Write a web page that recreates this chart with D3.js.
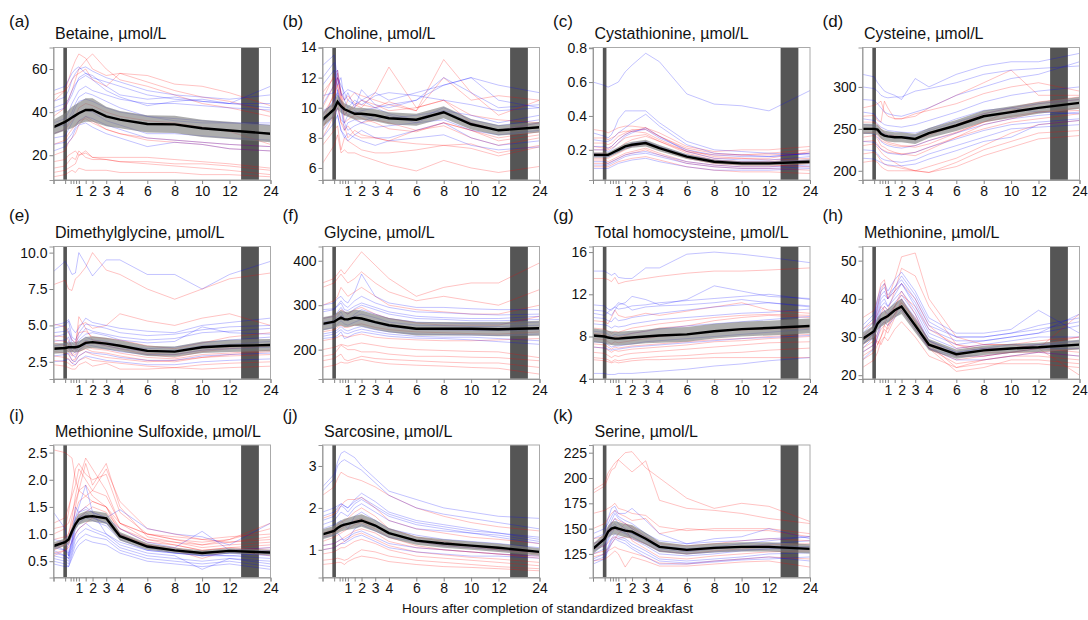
<!DOCTYPE html>
<html><head><meta charset="utf-8">
<script src="https://cdn.jsdelivr.net/npm/d3@7"></script>
<style>body{margin:0;background:#fff}svg{display:block;font-family:"Liberation Sans",Arial,sans-serif}</style>
</head><body><svg id="chart" width="1088" height="620"></svg>
<script>
// ---------- shared axis data ----------
const times = [-0.85,0,0.25,0.5,0.75,1,1.5,2,3,4,6,8,10,12,24];
const majorTicks = [1,2,3,4,6,8,10,12,24];
const minorTicks = [-0.85,0,0.4,0.6,0.8,1.5];
const mealTime = 0;
const nightBand = [15.4, 20.6];
const xAxisTitle = "Hours after completion of standardized breakfast";

const panelLabels = ["(a)","(b)","(c)","(d)","(e)","(f)","(g)","(h)","(i)","(j)","(k)"];
const panelTitles = ["Betaine, µmol/L","Choline, µmol/L","Cystathionine, µmol/L","Cysteine, µmol/L",
  "Dimethylglycine, µmol/L","Glycine, µmol/L","Total homocysteine, µmol/L","Methionine, µmol/L",
  "Methionine Sulfoxide, µmol/L","Sarcosine, µmol/L","Serine, µmol/L"];
const yDomains = [[8.5,70],[5.2,14],[0.022,0.804],[189,347],[1.32,10.42],[134,432],[3.97,16.53],[19,53.7],[0.2,2.64],[0.34,3.5],[101.7,232.6]];
const yTickValues = [[20,40,60],[6,8,10,12,14],[0.2,0.4,0.6,0.8],[200,250,300],[2.5,5,7.5,10],[200,300,400],[4,8,12,16],[20,30,40,50],[0.5,1,1.5,2,2.5],[1,2,3],[125,150,175,200,225]];
const yTickFormats = ["d","d",".1f","d",".1f","d","d","d",".1f","d","d"];

// ---------- (a) Betaine ----------
const betaineMean = [33,35.5,36.5,37.5,38.5,39.5,41,41,38,36.5,34.5,34.3,32.5,31.5,30];
const betaineCI = [3.5,4,4.5,5,5,5,5.5,5.5,4.5,4,4,4,4,4,4];
const betaineRed = [
 [12,13,14,15,16,20,22,19,18,17,16,15,14,13,11],
 [14,15,17,19,18,22,19,18,18,17,17,16,16,15,13],
 [10,11,12,13,12,14,13,13,13,12,12,12,11,11,10],
 [17,18,20,21,22,20,21,19,19,19,19,18,17,16,14],
 [20,22,26,28,30,34,38,36,32,30,27,26,25,23,22],
 [45,50,55,60,64,67,65,60,57,58,54,50,47,45,40],
 [38,42,46,50,55,60,64,67,60,55,52,48,44,42,38],
 [30,32,34,36,38,42,44,43,40,38,36,35,33,31,25],
 [48,50,52,55,57,58,60,55,52,58,57,53,52,49,43],
 [25,27,30,32,34,36,37,35,32,30,28,27,26,25,24]];
const betaineBlue = [
 [50,52,55,58,60,61,58,56,54,52,48,46,45,44,52],
 [45,47,50,55,58,60,61,59,56,54,50,48,47,46,48],
 [40,42,45,48,52,56,58,57,52,48,46,47,45,44,44],
 [35,37,40,44,47,50,52,50,48,46,44,44,43,42,41],
 [30,32,35,38,42,45,46,45,42,40,38,37,36,35,35],
 [28,29,32,35,38,40,41,40,36,34,30,30,29,28,27],
 [25,26,28,30,33,36,38,37,34,32,28,27,26,25,24],
 [33,34,37,40,44,47,49,48,45,42,38,36,35,35,34],
 [22,24,26,28,32,34,35,33,30,28,24,26,25,23,22],
 [42,44,46,50,53,55,57,55,50,47,43,45,46,44,42]];

// ---------- (b) Choline ----------
const cholineMean = [9.2,9.9,10.4,10.1,9.9,9.8,9.6,9.6,9.5,9.3,9.2,9.7,8.9,8.5,8.7];
const cholineCI = [0.5,0.5,0.5,0.45,0.4,0.4,0.4,0.4,0.4,0.4,0.4,0.4,0.35,0.35,0.35];
const cholineRed = [
 [6.3,7.5,8.2,7.0,7.2,7.0,7.0,6.8,6.5,6.2,5.8,6.5,6.0,5.7,6.1],
 [8.5,10.5,12.0,11.0,10.5,10.8,10.3,10.2,10.0,10.4,9.8,13.2,11.0,9.5,10.5],
 [9.0,11.0,12.3,10.5,10.0,9.8,10.2,10.0,11.0,12.7,10.0,10.5,9.0,8.5,9.0],
 [10.0,11.5,12.0,11.0,9.0,9.2,9.5,9.3,9.0,8.6,8.4,9.0,8.5,7.8,8.2],
 [8.0,9.5,10.0,9.0,8.8,8.0,8.5,8.2,8.0,7.8,7.6,7.5,7.3,6.8,7.4],
 [11.0,12.0,11.5,10.5,9.5,9.8,10.0,10.5,10.2,9.8,10.0,10.5,9.5,9.2,9.0],
 [7.5,8.5,8.8,7.2,8.0,7.8,7.5,7.2,7.0,7.0,7.2,7.5,7.6,7.0,7.5],
 [9.5,10.8,11.5,10.0,9.8,9.5,9.3,9.0,9.2,9.0,8.5,9.0,8.5,8.0,8.4],
 [10.5,12.2,12.5,11.0,10.0,10.5,11.0,10.8,10.5,10.2,9.8,12.0,10.5,10.8,10.5],
 [8.8,9.5,10.5,9.0,8.5,8.8,8.2,8.0,8.0,7.8,8.5,8.8,8.0,7.5,8.0]];
const cholineBlue = [
 [12.8,13.5,12.0,11.5,11.0,11.2,11.0,10.5,11.0,10.5,11.0,11.5,12.0,11.5,11.0],
 [12.0,13.0,11.5,12.0,10.5,11.0,10.0,11.2,10.2,10.0,10.5,12.0,11.0,10.0,10.2],
 [9.5,10.5,11.0,10.0,8.5,9.0,9.2,9.0,9.5,9.3,9.5,9.8,9.0,8.5,9.0],
 [8.0,9.0,9.5,8.5,8.2,7.8,8.2,8.5,8.0,8.0,8.5,9.0,8.0,7.5,7.8],
 [10.2,11.5,12.5,11.0,10.5,10.0,10.5,10.2,10.8,11.0,10.8,10.5,10.2,9.8,10.0],
 [11.5,12.5,11.0,10.0,9.0,9.5,9.8,9.5,9.2,9.5,9.0,9.8,9.5,9.0,9.5],
 [9.0,10.0,9.5,8.5,8.0,8.3,8.0,7.8,7.5,7.8,8.0,8.2,7.5,7.2,7.4],
 [10.8,11.0,12.0,10.8,11.0,10.5,10.2,10.5,10.0,10.2,10.5,11.5,12.0,10.5,10.0],
 [8.5,9.5,10.0,9.2,9.0,8.5,8.8,9.0,8.7,8.8,9.0,9.2,8.5,8.2,8.5],
 [9.8,10.2,11.2,10.3,9.5,9.8,9.6,9.8,10.0,9.6,9.2,10.0,9.2,8.8,9.2]];

// ---------- (c) Cystathionine ----------
const cystaMean = [0.17,0.17,0.17,0.18,0.19,0.2,0.22,0.23,0.24,0.21,0.16,0.13,0.12,0.12,0.13];
const cystaCI = [0.015,0.015,0.015,0.015,0.016,0.017,0.018,0.018,0.02,0.018,0.014,0.012,0.012,0.012,0.013];
const cystaRed = [
 [0.32,0.31,0.30,0.31,0.32,0.33,0.34,0.34,0.33,0.30,0.22,0.19,0.20,0.20,0.22],
 [0.22,0.21,0.21,0.22,0.24,0.26,0.29,0.31,0.33,0.28,0.20,0.16,0.15,0.14,0.15],
 [0.15,0.15,0.15,0.16,0.17,0.18,0.20,0.22,0.24,0.21,0.15,0.12,0.11,0.11,0.10],
 [0.12,0.12,0.12,0.13,0.14,0.15,0.17,0.18,0.20,0.17,0.12,0.10,0.09,0.09,0.08],
 [0.18,0.18,0.17,0.18,0.19,0.21,0.24,0.26,0.28,0.25,0.18,0.14,0.13,0.13,0.14],
 [0.10,0.10,0.10,0.11,0.12,0.13,0.14,0.15,0.16,0.14,0.10,0.08,0.07,0.07,0.06],
 [0.27,0.27,0.26,0.27,0.28,0.30,0.31,0.31,0.30,0.26,0.19,0.17,0.17,0.18,0.20],
 [0.20,0.20,0.20,0.21,0.22,0.24,0.27,0.28,0.29,0.25,0.19,0.15,0.15,0.15,0.19],
 [0.14,0.14,0.13,0.14,0.15,0.16,0.18,0.19,0.21,0.18,0.13,0.11,0.10,0.10,0.12],
 [0.24,0.24,0.23,0.24,0.26,0.28,0.30,0.32,0.32,0.28,0.21,0.18,0.17,0.17,0.18]];
const cystaBlue = [
 [0.60,0.58,0.57,0.58,0.59,0.60,0.66,0.70,0.77,0.72,0.53,0.47,0.46,0.43,0.55],
 [0.30,0.28,0.27,0.29,0.33,0.38,0.43,0.43,0.43,0.36,0.25,0.20,0.19,0.18,0.17],
 [0.26,0.25,0.25,0.26,0.28,0.30,0.33,0.36,0.41,0.34,0.23,0.18,0.17,0.16,0.18],
 [0.20,0.20,0.19,0.20,0.22,0.24,0.28,0.30,0.33,0.28,0.19,0.15,0.14,0.14,0.16],
 [0.16,0.16,0.16,0.17,0.18,0.19,0.21,0.22,0.24,0.21,0.16,0.13,0.12,0.12,0.13],
 [0.13,0.13,0.12,0.13,0.14,0.15,0.17,0.18,0.19,0.17,0.13,0.11,0.10,0.10,0.11],
 [0.11,0.11,0.11,0.12,0.13,0.14,0.16,0.17,0.18,0.16,0.12,0.10,0.09,0.09,0.10],
 [0.22,0.22,0.21,0.22,0.24,0.26,0.29,0.31,0.32,0.27,0.20,0.17,0.16,0.16,0.18],
 [0.18,0.17,0.17,0.18,0.19,0.20,0.22,0.24,0.25,0.22,0.17,0.14,0.13,0.13,0.14],
 [0.09,0.09,0.09,0.10,0.11,0.12,0.13,0.14,0.15,0.13,0.10,0.08,0.08,0.08,0.09]];

// ---------- (d) Cysteine ----------
const cysteineMean = [250,250,249,244,242,241,240,240,238,245,254,265,270,275,281];
const cysteineCI = [6,6,6,6,6,6,6,6,6,6,6.5,7,7,7,7];
const cysteineRed = [
 [275,278,280,283,270,265,262,262,265,275,290,305,320,290,290],
 [265,266,260,258,283,275,262,262,268,272,280,292,300,305,295],
 [240,242,238,230,228,225,222,220,218,225,240,255,262,270,275],
 [230,232,228,222,218,215,210,205,200,205,215,230,245,255,260],
 [220,222,218,212,208,206,205,203,200,198,210,225,235,245,248],
 [250,250,246,240,236,234,232,230,228,232,245,258,265,270,272],
 [210,212,210,205,202,200,200,200,200,198,205,218,228,238,242],
 [258,258,255,250,245,243,242,240,238,242,255,268,275,282,288],
 [235,236,232,226,224,222,221,220,222,228,240,250,258,262,268],
 [245,246,242,236,234,232,230,229,230,236,246,258,272,280,285]];
const cysteineBlue = [
 [315,312,305,300,295,293,290,285,310,300,315,325,330,330,340],
 [300,298,295,290,288,287,288,288,295,298,305,315,320,322,325],
 [285,284,280,275,270,268,266,265,270,275,290,300,310,315,330],
 [270,268,262,258,255,254,253,252,255,260,270,282,290,295,300],
 [255,254,250,246,244,242,241,240,242,248,258,268,275,280,285],
 [245,244,240,235,232,230,228,227,230,236,245,255,262,266,270],
 [235,234,230,226,223,221,220,219,222,228,238,248,255,258,262],
 [225,224,220,215,213,212,211,210,213,220,230,240,250,252,255],
 [262,260,256,252,250,248,247,246,245,250,262,272,275,270,268],
 [215,214,212,210,208,207,206,206,208,214,224,235,240,255,260]];

// ---------- (e) Dimethylglycine ----------
const dmgMean = [3.4,3.45,3.5,3.5,3.5,3.55,3.8,3.85,3.75,3.6,3.25,3.2,3.5,3.6,3.65];
const dmgCI = [0.35,0.35,0.35,0.35,0.35,0.38,0.4,0.4,0.4,0.38,0.35,0.35,0.4,0.42,0.42];
const dmgRed = [
 [7.8,8.1,7.5,7.4,8.2,8.4,9.0,10.0,8.8,8.5,7.5,6.8,7.5,8.2,8.6],
 [5.1,4.9,4.5,4.0,3.8,5.0,5.2,4.8,5.0,5.8,5.3,5.0,5.5,5.8,5.0],
 [4.3,4.2,4.0,3.5,3.4,4.5,4.6,4.2,4.1,4.0,3.6,3.4,3.8,4.2,4.5],
 [3.8,3.6,3.4,3.0,3.2,3.6,3.9,3.8,3.6,3.4,3.0,2.8,3.2,3.4,3.6],
 [3.2,3.1,3.0,2.6,2.7,3.2,3.4,3.2,3.1,2.9,2.6,2.5,2.8,3.0,3.2],
 [2.6,2.5,2.4,2.2,2.3,2.6,2.8,2.6,2.5,2.4,2.2,2.1,2.3,2.4,2.5],
 [2.3,2.2,2.1,2.0,2.0,2.3,2.5,2.2,2.4,2.0,2.0,2.1,2.0,2.1,2.2],
 [4.0,3.9,3.7,3.2,3.5,5.6,4.8,4.0,3.8,3.6,3.1,3.0,3.3,3.5,3.7],
 [2.9,2.8,2.7,2.4,2.6,2.9,3.2,3.0,2.8,2.7,2.5,2.6,2.8,2.9,3.0],
 [3.5,3.4,3.2,2.9,3.0,3.3,3.6,3.4,3.3,3.1,2.8,2.7,3.0,3.1,3.3]];
const dmgBlue = [
 [8.7,9.4,9.0,8.5,8.6,10.0,9.2,8.4,9.5,9.5,8.5,8.5,7.5,8.5,9.4],
 [5.0,5.2,5.4,4.8,4.5,4.8,5.5,5.2,5.0,4.8,4.6,4.5,5.0,5.2,5.5],
 [4.5,4.6,4.8,4.0,3.8,4.2,4.8,4.6,4.4,4.2,4.0,4.1,4.5,4.6,4.8],
 [3.9,4.0,4.2,3.5,3.3,3.8,4.2,4.0,3.9,3.6,3.4,3.5,3.8,4.0,4.2],
 [3.4,3.5,3.6,3.0,2.8,3.3,3.7,3.6,3.4,3.2,3.0,3.0,3.3,3.4,3.5],
 [2.9,3.0,3.1,2.6,2.5,2.9,3.2,3.1,3.0,2.8,2.6,2.6,2.9,3.0,3.1],
 [4.2,4.4,4.6,3.8,3.6,4.0,4.4,4.5,4.3,4.0,3.8,3.9,4.9,4.5,4.4],
 [2.5,2.6,2.7,2.4,2.3,2.6,2.9,2.8,2.6,2.5,2.3,2.3,2.5,2.6,2.7],
 [3.6,3.7,3.9,3.3,3.1,3.5,4.0,3.8,3.6,3.4,3.2,3.3,3.6,3.7,3.9],
 [4.8,5.0,5.3,4.2,4.0,4.5,5.1,5.0,4.8,4.5,4.3,4.4,4.7,4.9,5.0]];

// ---------- (f) Glycine ----------
const glycineMean = [258,263,268,272,268,268,272,270,262,255,247,247,247,246,248];
const glycineCI = [15,15,16,17,17,17,18,18,17,16,15,15,15,16,17];
const glycineRed = [
 [350,360,370,380,370,380,400,420,390,360,320,340,350,350,395],
 [340,350,360,370,360,350,360,375,350,330,310,320,310,300,335],
 [300,310,320,340,330,320,330,340,320,300,290,285,280,280,300],
 [270,275,280,290,285,280,290,295,280,270,260,255,255,255,275],
 [240,245,250,255,250,250,255,258,250,245,240,238,236,235,240],
 [220,225,228,232,230,228,232,235,228,225,222,220,220,222,225],
 [200,205,208,212,210,208,212,215,210,205,200,198,196,195,182],
 [185,190,200,210,205,200,200,195,195,190,185,185,183,182,175],
 [175,180,185,190,178,175,180,185,180,178,175,172,170,170,160],
 [160,165,168,172,170,170,175,178,172,168,165,163,160,158,145]];
const glycineBlue = [
 [300,305,315,320,310,305,330,370,320,305,295,295,292,290,290],
 [285,290,300,310,300,295,310,320,305,295,285,283,280,278,280],
 [270,275,285,295,285,280,292,300,290,280,270,268,265,265,268],
 [255,260,268,278,270,265,275,280,272,262,255,254,252,252,255],
 [245,250,258,265,258,255,262,268,260,252,245,244,243,243,245],
 [235,240,245,252,245,242,248,252,245,240,235,234,233,232,235],
 [225,228,232,240,225,228,236,240,235,230,226,225,222,218,212],
 [262,265,275,285,270,265,280,290,280,270,262,260,258,258,262],
 [290,292,298,305,290,288,298,305,295,285,275,272,270,270,275],
 [230,235,240,245,238,236,242,246,240,235,230,228,228,225,220]];

// ---------- (g) Total homocysteine ----------
const thcyMean = [8.1,8.0,7.9,7.85,7.8,7.8,7.85,7.9,8.0,8.1,8.2,8.5,8.7,8.8,9.0];
const thcyCI = [0.65,0.65,0.65,0.65,0.65,0.65,0.65,0.65,0.65,0.7,0.7,0.7,0.7,0.7,0.7];
const thcyRed = [
 [13.5,13.5,13.4,13.2,13.6,13.0,13.2,13.3,13.5,13.7,14.0,14.2,14.2,14.3,14.5],
 [9.5,9.4,9.2,9.8,10.5,10.0,9.8,9.9,10.2,10.0,10.4,10.8,11.2,10.5,10.2],
 [8.8,8.7,8.5,8.3,8.5,8.4,8.6,8.8,9.0,9.2,9.5,9.8,10.0,10.1,10.0],
 [7.8,7.7,7.5,7.3,7.5,7.4,7.5,7.6,7.8,8.0,8.2,8.5,8.6,8.7,8.8],
 [7.0,6.9,6.7,6.5,6.7,6.6,6.7,6.8,6.9,7.0,7.2,7.5,7.6,7.8,8.0],
 [6.5,6.4,6.2,6.0,6.2,6.1,6.3,6.4,6.5,6.6,6.8,7.0,7.2,7.4,7.5],
 [6.0,5.9,5.8,5.6,5.8,5.7,5.8,5.9,6.0,6.1,6.2,6.4,6.5,6.7,6.9],
 [5.8,5.7,5.6,5.5,5.6,5.5,5.6,5.7,5.8,5.8,5.9,6.0,6.0,6.0,6.0],
 [8.3,8.2,8.0,7.8,8.0,7.9,8.1,8.3,8.5,8.8,9.0,9.5,9.8,10.0,9.8],
 [7.3,7.2,7.0,6.8,7.0,6.9,7.0,7.1,7.2,7.3,7.5,7.7,7.8,8.0,8.2]];
const thcyBlue = [
 [14.2,14.2,14.0,13.8,14.0,13.6,13.5,13.5,14.5,14.5,15.8,16.0,15.8,15.5,15.0],
 [10.5,10.4,10.2,10.0,10.5,11.0,11.2,11.8,11.5,11.0,11.5,12.8,12.3,11.8,11.6],
 [10.2,10.0,10.3,10.6,10.8,11.2,11.0,10.5,10.8,10.9,11.0,11.2,11.5,11.2,10.9],
 [9.8,9.7,9.5,9.4,9.8,9.5,9.6,9.8,10.0,10.2,10.5,10.8,11.0,11.2,10.8],
 [8.5,8.4,8.2,8.0,8.2,8.1,8.2,8.3,8.5,8.7,9.0,9.2,9.4,9.6,9.9],
 [7.5,7.4,7.2,7.0,7.1,7.1,7.2,7.3,7.5,7.6,7.8,8.0,8.2,8.4,8.7],
 [4.5,4.5,4.4,4.4,4.4,4.5,4.5,4.5,4.6,4.7,4.9,5.2,5.4,5.7,6.0],
 [9.2,9.1,9.0,8.8,9.0,8.9,9.0,9.2,9.4,9.6,9.8,10.0,10.2,10.3,10.6],
 [7.0,6.9,6.8,6.7,6.8,6.8,6.9,7.0,7.1,7.2,7.4,7.6,7.8,7.9,8.1],
 [11.0,10.9,10.6,10.5,10.8,10.6,10.7,10.9,11.0,11.2,11.4,11.6,11.8,12.0,11.5]];

// ---------- (h) Methionine ----------
const metMean = [29.5,31.5,33.5,34.5,35,35.5,37,38,33,28,25.5,26.5,27,27.3,28];
const metCI = [1.6,1.6,1.7,1.8,1.8,1.8,1.9,2.0,1.8,1.5,1.2,1.2,1.2,1.2,1.3];
const metRed = [
 [30,33,38,42,44,40,45,51,52,40,30,28,28,27,26],
 [28,30,34,36,38,37,42,48,46,38,28,26,26,27,36],
 [26,28,29,28,30,33,38,42,36,28,22,24,25,26,25],
 [24,26,28,30,32,31,35,40,34,27,21,22,24,24,23],
 [27,29,31,33,34,33,36,39,34,27,23,24,25,25,24],
 [32,34,36,38,37,35,38,41,38,32,28,27,27,28,30],
 [22,24,26,29,30,29,32,34,30,25,22,23,23,23,22],
 [35,37,40,44,45,40,42,44,40,33,27,28,28,29,30],
 [29,31,28,30,33,36,38,37,32,27,24,25,26,27,20],
 [25,27,30,32,33,32,36,39,35,29,25,25,26,26,27]];
const metBlue = [
 [33,36,40,43,44,42,45,47,42,35,31,31,32,37,31],
 [30,33,37,40,41,40,43,45,40,33,30,30,31,32,34],
 [31,34,38,41,42,40,42,44,38,31,28,29,30,31,33],
 [28,31,35,38,39,38,40,42,37,30,27,28,29,30,30],
 [27,30,33,36,37,36,38,40,35,29,26,27,27,28,28],
 [26,28,31,34,35,34,36,38,33,27,25,25,26,27,27],
 [29,32,36,39,40,38,41,44,39,32,29,29,30,31,36],
 [32,35,39,42,43,41,43,46,41,34,30,30,31,33,35],
 [24,27,30,33,34,33,35,37,32,27,24,24,25,26,25],
 [28,31,34,37,38,37,39,41,36,29,26,27,28,28,29]];

// ---------- (i) Methionine sulfoxide ----------
const metsoMean = [0.78,0.85,0.9,1.05,1.18,1.27,1.32,1.33,1.29,0.96,0.77,0.7,0.65,0.69,0.66];
const metsoCI = [0.07,0.07,0.08,0.09,0.1,0.1,0.1,0.1,0.1,0.08,0.06,0.05,0.05,0.05,0.05];
const metsoRed = [
 [2.55,2.5,2.45,2.4,2.0,1.8,1.7,1.6,1.5,1.2,1.0,0.95,0.9,0.85,0.95],
 [1.0,1.1,1.4,1.8,2.2,2.3,2.1,2.0,2.1,1.4,1.0,0.9,0.85,0.9,1.1],
 [0.8,0.9,1.0,1.3,1.7,2.0,2.4,2.2,1.8,1.2,0.9,0.8,0.7,0.75,0.8],
 [0.7,0.8,0.9,1.1,1.5,1.8,2.3,1.9,2.3,1.5,0.95,0.85,0.75,0.8,0.85],
 [0.9,0.95,1.0,1.2,1.4,1.6,1.7,1.8,2.2,1.6,1.1,1.0,0.9,0.95,1.0],
 [0.6,0.7,0.8,1.0,1.2,1.4,1.5,1.6,1.5,1.0,0.8,0.75,0.65,0.7,0.75],
 [1.2,1.3,1.5,1.7,1.9,2.2,2.0,1.8,1.7,1.2,1.0,0.9,0.8,0.9,1.2],
 [0.75,0.8,0.85,1.0,1.2,1.3,1.4,1.5,1.4,1.1,0.85,0.8,0.7,0.75,0.7],
 [0.65,0.7,0.75,0.85,1.0,1.1,1.2,1.3,1.3,1.0,0.8,0.7,0.55,0.7,0.6],
 [1.1,1.15,1.2,1.4,1.6,1.8,1.9,1.7,1.5,1.1,0.9,0.85,0.8,0.85,0.9]];
const metsoBlue = [
 [0.9,0.85,0.8,1.0,1.3,1.5,1.9,1.4,1.3,1.45,1.1,1.0,0.95,0.8,1.2],
 [0.7,0.6,0.55,0.8,1.2,1.3,1.4,1.3,1.2,1.0,0.75,0.7,0.6,0.65,0.6],
 [0.6,0.55,0.5,0.7,1.0,1.1,1.2,1.1,1.0,0.8,0.65,0.6,0.35,0.55,0.5],
 [0.5,0.45,0.4,0.6,0.8,0.9,1.0,0.95,0.9,0.7,0.55,0.5,0.45,0.5,0.4],
 [0.8,0.7,0.65,0.9,1.3,1.4,1.5,1.4,1.3,1.1,0.85,0.75,1.05,0.7,0.75],
 [0.65,0.6,0.55,0.75,1.1,1.2,1.3,1.25,1.15,0.9,0.7,0.65,0.6,0.6,0.55],
 [1.4,1.1,0.6,0.9,1.5,1.4,1.45,1.4,1.0,0.85,0.7,0.65,0.6,0.65,0.7],
 [0.55,0.5,0.45,0.65,0.9,1.0,1.1,1.05,0.95,0.75,0.6,0.55,0.5,0.55,0.45],
 [0.75,0.7,0.6,0.85,1.2,1.3,1.35,1.3,1.2,0.95,0.75,0.65,0.62,0.6,0.65],
 [0.45,0.4,0.4,0.55,0.7,0.8,0.9,0.85,0.8,0.65,0.5,0.45,0.4,0.45,0.35]];

// ---------- (j) Sarcosine ----------
const sarcMean = [1.37,1.45,1.52,1.57,1.6,1.62,1.66,1.7,1.58,1.4,1.22,1.15,1.1,1.05,0.95];
const sarcCI = [0.12,0.12,0.13,0.13,0.14,0.14,0.15,0.15,0.14,0.12,0.1,0.1,0.1,0.1,0.09];
const sarcRed = [
 [2.3,2.5,2.7,2.85,2.8,2.75,2.7,2.65,2.5,2.3,2.0,1.8,1.65,1.55,1.45],
 [1.75,1.85,1.95,2.05,2.15,2.2,2.2,2.25,2.0,1.7,1.5,1.4,1.3,1.25,1.15],
 [1.4,1.5,1.6,1.65,1.7,1.75,1.9,2.0,1.8,1.5,1.3,1.2,1.1,1.0,0.9],
 [1.2,1.3,1.35,1.4,1.45,1.5,1.6,1.65,1.5,1.3,1.1,1.0,0.95,0.9,0.8],
 [1.0,1.05,1.1,1.15,1.2,1.25,1.35,1.4,1.25,1.1,0.95,0.88,0.82,0.78,0.7],
 [0.9,0.95,1.0,1.05,1.05,1.1,1.2,1.25,1.15,1.0,0.85,0.8,0.75,0.7,0.62],
 [0.75,0.78,0.8,0.78,0.75,0.78,0.9,1.0,0.95,0.85,0.75,0.7,0.65,0.6,0.55],
 [0.65,0.68,0.7,0.7,0.65,0.72,0.8,0.85,0.8,0.72,0.65,0.6,0.58,0.55,0.5],
 [1.1,1.15,1.2,1.25,1.3,1.35,1.45,1.5,1.4,1.2,1.05,1.0,0.95,0.9,0.85],
 [1.3,1.4,1.45,1.5,1.55,1.6,1.7,1.75,1.6,1.4,1.2,1.1,1.05,1.0,0.95]];
const sarcBlue = [
 [2.5,2.8,3.1,3.3,3.35,3.3,3.2,3.0,2.7,2.4,2.2,2.0,1.9,1.8,1.75],
 [2.4,2.7,3.0,3.1,3.15,3.1,3.0,2.9,2.6,2.3,2.0,1.85,1.75,1.65,1.5],
 [1.9,2.0,2.05,2.1,2.05,2.0,2.2,2.35,2.15,1.9,1.7,1.6,1.5,1.4,1.25],
 [1.7,1.8,1.9,2.05,2.0,1.9,2.1,2.2,2.0,1.8,1.6,1.5,1.4,1.35,1.2],
 [1.5,1.6,1.65,1.7,1.6,1.5,1.8,1.9,1.7,1.5,1.35,1.25,1.2,1.15,1.05],
 [1.3,1.35,1.4,1.3,1.2,1.25,1.5,1.6,1.45,1.3,1.2,1.1,1.05,1.0,0.95],
 [1.1,1.15,1.2,1.25,1.25,1.3,1.4,1.45,1.3,1.15,1.05,1.0,0.95,0.9,0.85],
 [1.6,1.7,1.8,1.9,1.85,1.8,2.0,2.1,1.9,1.7,1.5,1.45,1.4,1.3,1.15],
 [1.0,1.05,1.1,1.15,1.15,1.2,1.3,1.35,1.2,1.05,0.95,0.9,0.85,0.85,0.8],
 [1.8,1.9,2.0,2.1,2.05,2.0,2.15,2.25,2.05,1.85,1.65,1.55,1.45,1.4,1.3]];

// ---------- (k) Serine ----------
const serineMean = [130,140,147,150,151,150,148,147,140,132,129,131,132,132,130];
const serineCI = [5,5.5,6,6.5,6.5,6.5,6.5,6.5,6,5,4.5,4.5,4.5,4.5,4.5];
const serineRed = [
 [188,195,205,210,215,218,225,226,210,200,180,170,175,172,157],
 [185,192,200,208,210,218,212,206,217,178,170,168,165,160,155],
 [165,168,170,172,175,170,168,165,163,152,148,150,150,150,145],
 [150,155,160,165,168,165,162,158,160,145,150,148,148,148,142],
 [140,142,145,148,150,148,155,152,142,135,133,135,138,140,138],
 [130,133,136,140,142,140,142,140,135,128,125,128,130,132,130],
 [122,125,128,130,132,130,128,126,122,116,115,118,120,122,120],
 [118,120,122,125,128,125,112,122,118,113,113,115,117,118,112],
 [135,140,150,155,160,158,155,150,140,132,128,130,132,134,135],
 [125,128,130,135,140,145,150,138,130,122,120,123,125,127,128]];
const serineBlue = [
 [140,145,160,170,172,165,165,170,158,145,135,140,142,150,140],
 [135,140,150,158,165,160,155,150,142,133,130,132,135,138,142],
 [130,135,145,155,160,155,150,145,138,130,127,130,132,135,138],
 [125,130,138,145,150,148,145,140,133,125,123,125,128,130,132],
 [120,125,132,140,145,142,140,135,128,120,118,120,122,125,126],
 [115,120,128,135,140,138,135,130,122,115,115,117,119,120,122],
 [145,150,155,162,168,162,158,155,145,138,135,137,138,140,142],
 [132,138,148,152,155,150,148,145,140,132,128,131,132,133,132],
 [128,133,140,148,152,150,146,142,135,128,125,127,129,130,130],
 [118,122,130,138,142,140,138,132,125,118,116,118,120,122,118]];

const meanSeries = [betaineMean,cholineMean,cystaMean,cysteineMean,dmgMean,glycineMean,thcyMean,metMean,metsoMean,sarcMean,serineMean];
const ciSeries = [betaineCI,cholineCI,cystaCI,cysteineCI,dmgCI,glycineCI,thcyCI,metCI,metsoCI,sarcCI,serineCI];
const redSeries = [betaineRed,cholineRed,cystaRed,cysteineRed,dmgRed,glycineRed,thcyRed,metRed,metsoRed,sarcRed,serineRed];
const blueSeries = [betaineBlue,cholineBlue,cystaBlue,cysteineBlue,dmgBlue,glycineBlue,thcyBlue,metBlue,metsoBlue,sarcBlue,serineBlue];

// ---------- layout ----------
const colX = [53.5, 322.5, 593, 862.5];
const rowY = [47.5, 246.5, 445];
const labelX = [9, 282.5, 553, 822.5];
const labelY = [27, 221, 420.5];
const PW = 217, PH = 132.5;

const svg = d3.select("#chart");
svg.append("rect").attr("width",1088).attr("height",620).attr("fill","#fff");

panelTitles.forEach((title,i)=>{
  const c = i % 4, r = Math.floor(i / 4);
  const x = d3.scaleLinear().domain([times[0], 12, 24]).range([0, PW*0.811, PW]);
  const y = d3.scaleLinear().domain(yDomains[i]).range([PH, 0]);

  svg.append("text").attr("x", labelX[c]).attr("y", labelY[r])
    .attr("font-size", 17).attr("fill", "#111").text(panelLabels[i]);

  const g = svg.append("g").attr("transform", `translate(${colX[c]},${rowY[r]})`);
  g.append("text").attr("x", 1.5).attr("y", -8.5).attr("font-size", 16).attr("fill", "#111").text(title);

  const clipId = "clip" + i;
  g.append("clipPath").attr("id", clipId).append("rect").attr("width", PW).attr("height", PH);
  const body = g.append("g").attr("clip-path", `url(#${clipId})`);

  body.append("rect").attr("x", x(mealTime) - 1.8).attr("width", 3.6).attr("y", 0).attr("height", PH).attr("fill", "#555");
  body.append("rect").attr("x", x(nightBand[0])).attr("width", x(nightBand[1]) - x(nightBand[0]))
    .attr("y", 0).attr("height", PH).attr("fill", "#555");

  const line = d3.line().x((d, k) => x(times[k])).y(d => y(d));
  body.selectAll("path.red").data(redSeries[i]).join("path").attr("class","red")
    .attr("d", line).attr("fill","none").attr("stroke","#ff0000").attr("stroke-opacity",0.24).attr("stroke-width",1);
  body.selectAll("path.blue").data(blueSeries[i]).join("path").attr("class","blue")
    .attr("d", line).attr("fill","none").attr("stroke","#0000ff").attr("stroke-opacity",0.24).attr("stroke-width",1);

  const m = meanSeries[i], ci = ciSeries[i];
  const area = d3.area().x((d, k) => x(times[k])).y0((d, k) => y(d - ci[k])).y1((d, k) => y(d + ci[k]));
  body.append("path").datum(m).attr("d", area).attr("fill", "#777").attr("fill-opacity", 0.6);
  body.append("path").datum(m).attr("d", line).attr("fill", "none").attr("stroke", "#000").attr("stroke-width", 2.4);

  g.append("rect").attr("width", PW).attr("height", PH).attr("fill", "none").attr("stroke", "#aaa").attr("stroke-width", 1);

  const ya = g.append("g").call(d3.axisLeft(y).tickValues(yTickValues[i]).tickFormat(d3.format(yTickFormats[i])).tickSize(4).tickPadding(2));
  ya.select(".domain").attr("stroke", "#999");
  ya.selectAll(".tick line").attr("stroke", "#888");
  ya.selectAll("text").attr("font-size", 14).attr("fill", "#111").attr("font-family", null);

  const xa = g.append("g").attr("transform", `translate(0,${PH})`)
    .call(d3.axisBottom(x).tickValues(majorTicks).tickFormat(d3.format("d")).tickSize(4).tickPadding(2));
  xa.select(".domain").attr("stroke", "#999");
  xa.selectAll(".tick line").attr("stroke", "#888");
  xa.selectAll("text").attr("font-size", 14).attr("fill", "#111").attr("font-family", null);
  const xm = g.append("g").attr("transform", `translate(0,${PH})`)
    .call(d3.axisBottom(x).tickValues(minorTicks).tickFormat("").tickSize(4));
  xm.select(".domain").remove();
  xm.selectAll(".tick line").attr("stroke", "#888");
});

svg.append("text").attr("x", 547.5).attr("y", 613).attr("text-anchor", "middle")
  .attr("font-size", 13.5).attr("fill", "#111").text(xAxisTitle);
</script></body></html>
